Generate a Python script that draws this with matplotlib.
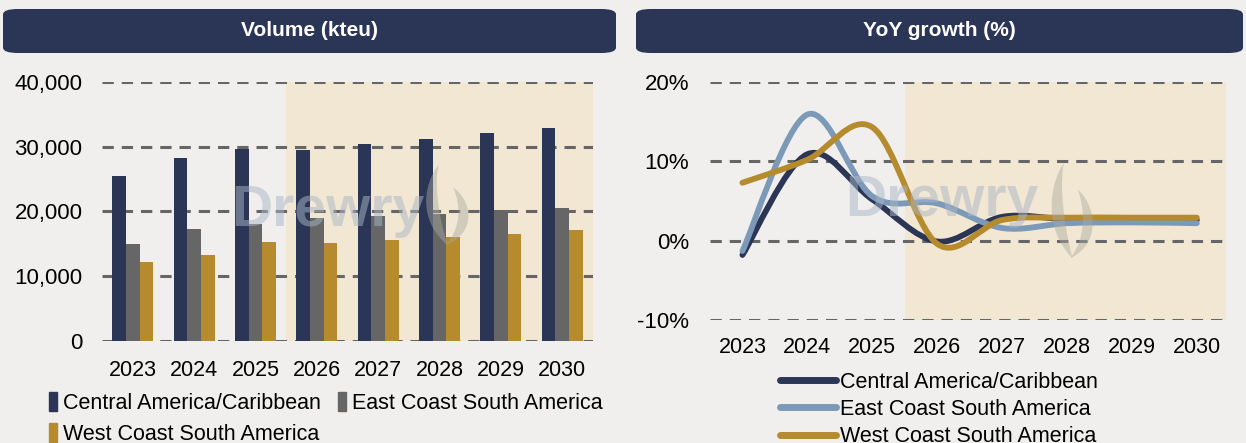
import numpy as np
import matplotlib.pyplot as plt
from matplotlib.path import Path
from matplotlib.patches import PathPatch, Patch, FancyBboxPatch
from matplotlib.lines import Line2D

plt.rcParams['font.family'] = ['Liberation Sans', 'DejaVu Sans']
plt.rcParams['font.size'] = 15.5

years = ['2023', '2024', '2025', '2026', '2027', '2028', '2029', '2030']
series = ['Central America/Caribbean', 'East Coast South America', 'West Coast South America']

# volumes, kteu
vol_central = [25460, 28200, 29590, 29540, 30410, 31240, 32060, 32890]
vol_east = [15000, 17270, 18090, 18920, 19230, 19690, 20160, 20570]
vol_west = [12170, 13350, 15260, 15210, 15620, 16080, 16600, 17110]

# year on year growth, %
yoy_central = [-1.8, 10.9, 5.2, -0.1, 3.0, 2.7, 2.6, 2.6]
yoy_east = [-1.3, 15.9, 5.6, 4.7, 1.6, 2.2, 2.3, 2.2]
yoy_west = [7.3, 10.2, 14.3, -0.4, 2.6, 2.9, 2.9, 2.9]

navy = '#2b3556'
grey = '#666666'
gold = '#b68b2e'
steel = '#7c9ab8'
bg = '#f0efed'
shade = '#f2e7d2'
forecast_from = 2.5

fig = plt.figure(figsize=(12.46, 4.43), dpi=100, facecolor=bg)


def header(x0, x1, text):
    box = FancyBboxPatch((x0 / 1246, 1 - 53 / 443), (x1 - x0) / 1246, 44 / 443,
                         boxstyle='round,pad=0,rounding_size=0.012',
                         transform=fig.transFigure, facecolor=navy, edgecolor='none')
    fig.patches.append(box)
    fig.text((x0 + x1) / 2 / 1246, 1 - 31 / 443, text, color='white',
             fontweight='bold', ha='center', va='center', fontsize=15)


def smooth_line(ax, xs, ys, color):
    # cubic bezier through the points, like a spreadsheet "smoothed line"
    pts = np.column_stack([xs, ys]).astype(float)
    ext = np.vstack([pts[0], pts, pts[-1]])
    verts = [pts[0]]
    codes = [Path.MOVETO]
    for i in range(len(pts) - 1):
        p0, p1, p2, p3 = ext[i], ext[i + 1], ext[i + 2], ext[i + 3]
        verts += [p1 + (p2 - p0) / 6, p2 - (p3 - p1) / 6, p2]
        codes += [Path.CURVE4] * 3
    ax.add_patch(PathPatch(Path(verts, codes), facecolor='none', edgecolor=color,
                           lw=4.2, capstyle='round', joinstyle='round', zorder=3))


def watermark(ax, x0, x1, y0, y1, tx):
    ax.text(tx, 0.5, 'Drewry', transform=ax.transAxes, fontsize=41, fontweight='bold',
            color='#aab6c6', alpha=0.5, ha='center', va='center', zorder=5)
    # two flame tongues next to the word
    def p(u, v):
        return (x0 + u * (x1 - x0), y0 + v * (y1 - y0))
    flames = [
        [p(0.5, 0.0), p(-0.15, 0.3), p(-0.05, 0.75), p(0.3, 1.0),
         p(0.2, 0.75), p(0.3, 0.35), p(0.5, 0.0)],
        [p(0.45, 0.0), p(1.15, 0.15), p(1.05, 0.55), p(0.62, 0.72),
         p(0.8, 0.5), p(0.8, 0.2), p(0.45, 0.0)],
    ]
    codes = [Path.MOVETO] + [Path.CURVE4] * 6
    for verts in flames:
        ax.add_patch(PathPatch(Path(verts, codes), transform=ax.transAxes,
                               facecolor='#a9a9a2', edgecolor='none', alpha=0.45, zorder=5))


def style_axes(ax):
    ax.set_facecolor('none')
    for s in ax.spines.values():
        s.set_visible(False)
    ax.tick_params(length=0, labelsize=15.5)
    ax.yaxis.grid(True, linestyle=(0, (3.7, 2.6)), color='#666666', lw=2.2)
    ax.set_axisbelow(True)


header(3, 616, 'Volume (kteu)')
header(636, 1243, 'YoY growth (%)')

# volume bars
ax1 = fig.add_axes([102 / 1246, 1 - 341 / 443, 491 / 1246, 259 / 443])
style_axes(ax1)
x = np.arange(len(years))
w = 0.222
ax1.axvspan(forecast_from, 7.5, color=shade, zorder=0, lw=0)
ax1.bar(x - w, vol_central, w, color=navy, zorder=2)
ax1.bar(x, vol_east, w, color=grey, zorder=2)
ax1.bar(x + w, vol_west, w, color=gold, zorder=2)
ax1.set_xlim(-0.5, 7.5)
ax1.set_ylim(0, 40000)
ax1.set_yticks(range(0, 40001, 10000))
ax1.set_yticklabels([f'{v:,}' for v in range(0, 40001, 10000)], fontsize=16)
ax1.set_xticks(x)
ax1.set_xticklabels(years)
ax1.tick_params(axis='y', pad=14)
ax1.tick_params(axis='x', pad=14)
watermark(ax1, 0.658, 0.75, 0.37, 0.68, 0.46)

# growth lines
ax2 = fig.add_axes([710 / 1246, 1 - 320 / 443, 516 / 1246, 238 / 443])
style_axes(ax2)
ax2.axvspan(forecast_from, 7.5, color=shade, zorder=0, lw=0)
smooth_line(ax2, x, yoy_central, navy)
smooth_line(ax2, x, yoy_east, steel)
smooth_line(ax2, x, yoy_west, gold)
ax2.set_xlim(-0.5, 7.45)
ax2.set_ylim(-10, 20)
ax2.set_yticks([-10, 0, 10, 20])
ax2.set_yticklabels(['-10%', '0%', '10%', '20%'], fontsize=16)
ax2.set_xticks(x)
ax2.set_xticklabels(years)
ax2.tick_params(axis='y', pad=15)
ax2.tick_params(axis='x', pad=12)
watermark(ax2, 0.66, 0.745, 0.26, 0.66, 0.45)

# legends
bar_handles = [Patch(color=navy), Patch(color=gold), Patch(color=grey)]
fig.legend(bar_handles, [series[0], series[2], series[1]], ncol=2, loc='upper left',
           bbox_to_anchor=(49 / 1246, 1 - 392 / 443), frameon=False, fontsize=15.5,
           handlelength=0.35, handleheight=0.95, handletextpad=0.3,
           columnspacing=0.8, labelspacing=0.45, borderaxespad=0, borderpad=0)

line_handles = [Line2D([], [], color=c, lw=5, solid_capstyle='round') for c in (navy, steel, gold)]
fig.legend(line_handles, series, loc='upper left',
           bbox_to_anchor=(780 / 1246, 1 - 372 / 443), frameon=False, fontsize=15.5,
           handlelength=2.6, handletextpad=0.2, labelspacing=0.28,
           borderaxespad=0, borderpad=0)

fig.savefig('out.png', dpi=100, facecolor=bg)
